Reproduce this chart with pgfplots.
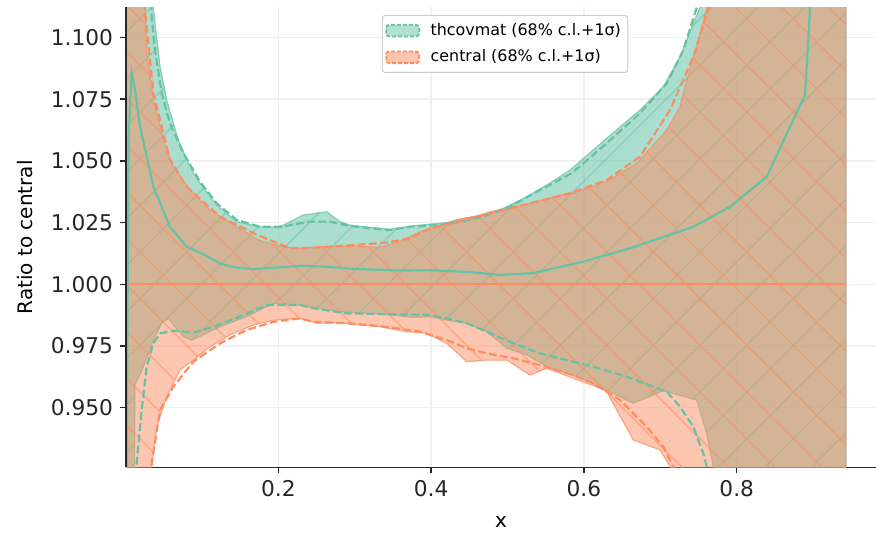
\documentclass[border=0pt]{standalone}
\usepackage{fontspec}
\setmainfont{DejaVu Sans}
\usepackage{pgfplots}
\pgfplotsset{compat=1.18}
\usepgfplotslibrary{fillbetween}
\usetikzlibrary{patterns.meta}
\definecolor{cgreen}{HTML}{66C2A5}
\definecolor{corange}{HTML}{FC8D62}
\definecolor{spine}{HTML}{262626}
\begin{document}
\begin{tikzpicture}
\begin{axis}[
  name=ax,
  scale only axis, width=375pt, height=230pt,
  xmin=0.00065, xmax=0.9823, ymin=0.92585, ymax=1.11224,
  axis x line*=bottom, axis y line*=left,
  axis line style={line width=0.75pt, spine},
  xtick={0.2,0.4,0.6,0.8},
  ytick={0.95,0.975,1.0,1.025,1.05,1.075,1.1},
  /pgf/number format/assume math mode=true,
  xticklabel style={/pgf/number format/.cd, fixed, fixed zerofill, precision=1},
  yticklabel style={/pgf/number format/.cd, fixed, fixed zerofill, precision=3},
  tick label style={font=\fontsize{10.85pt}{12pt}\selectfont, text=spine},
  tick align=outside, major tick length=3pt,
  tick style={line width=0.75pt, spine},
  grid=major, grid style={line width=0.75pt, color=black!6},
  xlabel={x}, ylabel={Ratio to central},
  label style={font=\fontsize{11pt}{13pt}\selectfont, text=spine},
  every axis x label/.style={at={(axis description cs:0.5,-0.1183)}, anchor=center},
  every axis y label/.style={at={(axis description cs:-0.1347,0.5)}, rotate=90, anchor=center},
  legend cell align=left,
  legend style={at={(axis description cs:0.341,0.9833)}, anchor=north west,
    draw=black!20, line width=0.5pt, rounded corners=1.5pt, fill=white,
    font=\fontsize{7.95pt}{9pt}\selectfont, row sep=1.8pt, inner xsep=1.5pt, inner ysep=1.8pt},
]
% ---- band boundaries ----
\addplot[draw=none, name path=gup, forget plot] coordinates {
(0.001,1.30) (0.03,1.14) (0.0364,1.1122) (0.0452,1.0882) (0.0539,1.0747) (0.0691,1.0585) (0.0866,1.0463) (0.0975,1.0409) (0.1194,1.0321) (0.1455,1.0254) (0.176,1.0233) (0.2022,1.0233) (0.2241,1.0267) (0.2327,1.0281) (0.2634,1.0294) (0.2808,1.0254) (0.2938,1.024) (0.32,1.0231) (0.3462,1.0223) (0.3724,1.0236) (0.4204,1.025) (0.4421,1.0267) (0.4683,1.0281) (0.4945,1.0308) (0.5207,1.0348) (0.5513,1.0402) (0.5818,1.0463) (0.6298,1.0592) (0.6734,1.0706) (0.7039,1.0801) (0.7258,1.0922) (0.7432,1.1058) (0.752,1.1122) (0.77,1.16) (0.9427,1.35)};
\addplot[draw=none, name path=gdn, forget plot] coordinates {
(0.001,0.88) (0.0105,0.88) (0.0124,0.9592) (0.0233,0.9666) (0.0364,0.9774) (0.0474,0.9842) (0.056,0.9862) (0.0626,0.9835) (0.0757,0.9788) (0.0866,0.9774) (0.1018,0.9795) (0.1237,0.9828) (0.1586,0.9869) (0.1935,0.9923) (0.2284,0.9916) (0.2372,0.9909) (0.2808,0.9889) (0.3331,0.988) (0.3767,0.9866) (0.3986,0.9869) (0.4204,0.9855) (0.4466,0.9842) (0.4728,0.9808) (0.499,0.9741) (0.5251,0.9714) (0.5556,0.966) (0.5861,0.9632) (0.6211,0.9585) (0.6342,0.9565) (0.6647,0.9518) (0.7039,0.9569) (0.7477,0.9531) (0.7607,0.9396) (0.7694,0.9261) (0.78,0.88) (0.9427,0.85)};
\addplot[draw=none, name path=oup, forget plot] coordinates {
(0.001,1.30) (0.02,1.14) (0.0255,1.1122) (0.0277,1.0949) (0.0364,1.0747) (0.0495,1.0585) (0.0626,1.0477) (0.0844,1.0382) (0.1106,1.0301) (0.1455,1.0233) (0.176,1.0177) (0.2,1.0157) (0.2241,1.0145) (0.2546,1.0152) (0.2982,1.0155) (0.3331,1.015) (0.3593,1.0173) (0.3855,1.0213) (0.4073,1.0236) (0.4335,1.0261) (0.4597,1.0277) (0.4771,1.0294) (0.5033,1.0308) (0.5382,1.0335) (0.5687,1.0362) (0.5861,1.0369) (0.6298,1.0416) (0.6691,1.049) (0.7084,1.0625) (0.7258,1.072) (0.7346,1.0828) (0.7477,1.0963) (0.7607,1.1118) (0.78,1.17) (0.9427,1.4)};
\addplot[draw=none, name path=odn, forget plot] coordinates {
(0.001,0.85) (0.03,0.88) (0.0343,0.9261) (0.0408,0.9423) (0.0539,0.9545) (0.067,0.9626) (0.0713,0.9653) (0.0887,0.9693) (0.1106,0.9747) (0.1368,0.9795) (0.1673,0.9835) (0.1935,0.9855) (0.2284,0.9862) (0.2503,0.9842) (0.2808,0.9844) (0.3331,0.9828) (0.3681,0.9808) (0.3942,0.9801) (0.4204,0.9761) (0.4466,0.9686) (0.4728,0.9693) (0.499,0.9693) (0.5295,0.9632) (0.5513,0.966) (0.5861,0.9619) (0.6211,0.9579) (0.6298,0.9565) (0.6647,0.9369) (0.6996,0.9329) (0.7127,0.9261) (0.72,0.88) (0.9427,0.85)};
% ---- bands ----
\addplot[fill=cgreen, fill opacity=0.55, draw=cgreen, draw opacity=0.5, line width=0.5pt, forget plot] fill between[of=gup and gdn];
\addplot[pattern={Lines[angle=45,distance=16.5pt,line width=0.8pt]}, pattern color=cgreen, fill opacity=0.55, draw=cgreen, draw opacity=0.5, line width=0.5pt, forget plot] fill between[of=gup and gdn];
\addplot[fill=corange, fill opacity=0.5, draw=corange, draw opacity=0.5, line width=0.5pt, forget plot] fill between[of=oup and odn];
\addplot[pattern={Lines[angle=-45,distance=16.5pt,line width=0.8pt]}, pattern color=corange, fill opacity=0.65, draw=corange, draw opacity=0.5, line width=0.5pt, forget plot] fill between[of=oup and odn];
% ---- thcovmat lines ----
\addplot[cgreen, line width=1.1pt, forget plot] coordinates {
(0.001,0.90) (0.004,1.06) (0.0081,1.0855) (0.0124,1.0787) (0.019,1.0639) (0.0277,1.0517) (0.0364,1.0395) (0.0582,1.0233) (0.0801,1.0152) (0.1,1.0125) (0.1237,1.0085) (0.14,1.007) (0.1673,1.0062) (0.2,1.0068) (0.2284,1.0075) (0.26,1.0072) (0.3,1.0062) (0.359,1.0056) (0.4,1.0057) (0.45,1.005) (0.4889,1.0038) (0.5334,1.0045) (0.5988,1.0092) (0.6603,1.0146) (0.7432,1.0233) (0.7912,1.0314) (0.8393,1.0436) (0.8894,1.0767) (0.896,1.1118) (0.9,1.15) (0.9427,1.3)};
\addplot[cgreen, line width=1.1pt, dash pattern=on 3.9pt off 1.7pt, forget plot] coordinates {
(0.001,1.30) (0.03,1.14) (0.0343,1.1084) (0.0386,1.0949) (0.0474,1.0774) (0.0582,1.0652) (0.0757,1.0531) (0.0975,1.0416) (0.1194,1.0328) (0.1455,1.0261) (0.176,1.0233) (0.2065,1.0233) (0.2153,1.024) (0.2415,1.0254) (0.2677,1.0254) (0.2938,1.0236) (0.32,1.0227) (0.3462,1.022) (0.3724,1.0233) (0.4073,1.024) (0.4335,1.025) (0.4683,1.0274) (0.5033,1.0314) (0.5382,1.0375) (0.584,1.045) (0.6298,1.0571) (0.6734,1.0693) (0.7084,1.0814) (0.7301,1.0949) (0.7477,1.1122) (0.77,1.17) (0.9427,1.4)};
\addplot[cgreen, line width=1.1pt, dash pattern=on 3.9pt off 1.7pt, forget plot] coordinates {
(0.001,0.85) (0.012,0.88) (0.0147,0.9275) (0.0212,0.9491) (0.0277,0.9666) (0.0364,0.9761) (0.0452,0.9801) (0.0626,0.9812) (0.0887,0.9804) (0.1149,0.9828) (0.1499,0.9869) (0.1848,0.9916) (0.2284,0.9916) (0.2458,0.9903) (0.2895,0.9882) (0.3331,0.988) (0.3942,0.9876) (0.4204,0.9862) (0.4466,0.9842) (0.4728,0.9808) (0.5076,0.9761) (0.5425,0.972) (0.5861,0.9686) (0.6123,0.9666) (0.656,0.9626) (0.6908,0.9585) (0.7084,0.9565) (0.7258,0.9504) (0.7432,0.9423) (0.7563,0.9315) (0.7607,0.9261) (0.77,0.88) (0.9427,0.80)};
% ---- central lines ----
\addplot[corange, line width=1.1pt, forget plot] coordinates {(0.001,1.0) (0.9427,1.0)};
\addplot[corange, line width=1.1pt, dash pattern=on 3.9pt off 1.7pt, forget plot] coordinates {
(0.001,1.30) (0.02,1.14) (0.0255,1.111) (0.0364,1.0774) (0.0582,1.0504) (0.0801,1.0395) (0.1237,1.0274) (0.1673,1.0207) (0.2153,1.0146) (0.2284,1.0146) (0.2546,1.015) (0.2982,1.0159) (0.3419,1.0169) (0.3724,1.0186) (0.3942,1.022) (0.4247,1.0247) (0.4597,1.0274) (0.4945,1.0301) (0.5382,1.0335) (0.5818,1.0369) (0.6298,1.0422) (0.6734,1.0517) (0.7127,1.0706) (0.7432,1.0922) (0.7628,1.1118) (0.78,1.17) (0.9427,1.4)};
\addplot[corange, line width=1.1pt, dash pattern=on 3.9pt off 1.7pt, forget plot] coordinates {
(0.001,0.80) (0.03,0.88) (0.0343,0.9275) (0.0452,0.9491) (0.0626,0.9585) (0.0887,0.9686) (0.1237,0.9761) (0.1586,0.9815) (0.1935,0.9848) (0.2284,0.9862) (0.2458,0.9848) (0.2895,0.9842) (0.3331,0.9831) (0.3855,0.9808) (0.4204,0.9774) (0.4466,0.9741) (0.4728,0.972) (0.5076,0.97) (0.5425,0.9673) (0.5861,0.9632) (0.6123,0.9599) (0.6473,0.9531) (0.6822,0.9423) (0.7039,0.9342) (0.717,0.9261) (0.73,0.88) (0.9427,0.80)};
% ---- legend ----
\addlegendimage{legend image code/.code={\draw[fill=cgreen, fill opacity=0.5, draw=cgreen, line width=0.9pt, dash pattern=on 2pt off 1pt] (0pt,-2.9pt) rectangle (16.5pt,2.9pt); \path (20pt,0pt);}}
\addlegendentry{thcovmat (68\% c.l.+1σ)}
\addlegendimage{legend image code/.code={\draw[fill=corange, fill opacity=0.5, draw=corange, line width=0.9pt, dash pattern=on 2pt off 1pt] (0pt,-2.9pt) rectangle (16.5pt,2.9pt); \path (20pt,0pt);}}
\addlegendentry{central (68\% c.l.+1σ)}
\end{axis}
\draw[line width=0.75pt, spine] (ax.south west) -- (ax.north west);
\pgfresetboundingbox
\path (ax.south west) ++(-63pt,-32.35pt) rectangle ++(438pt,266pt);
\end{tikzpicture}
\end{document}
